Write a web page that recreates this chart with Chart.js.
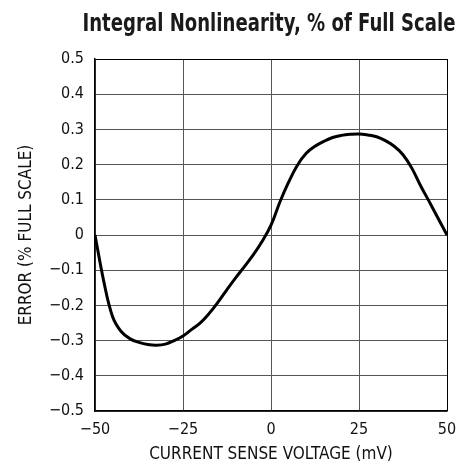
<!DOCTYPE html>
<html>
<head>
<meta charset="utf-8">
<script src="https://cdn.jsdelivr.net/npm/chart.js@4/dist/chart.umd.min.js"></script>
<style>
  html, body { margin: 0; padding: 0; background: #fff; }
  #wrap { width: 474px; height: 465px; }
</style>
</head>
<body>
<div id="wrap"><canvas id="inlChart" width="474" height="465"></canvas></div>
<script>
// Current sense voltage (mV)
const senseVoltage = [-50, -47.5, -45, -42.5, -40, -37.5, -35, -32.5, -30, -27.5, -25,
    -22.5, -20, -17.5, -15, -12.5, -10, -7.5, -5, -2.5, 0, 2.5, 5, 7.5, 10, 12.5,
    15, 17.5, 20, 22.5, 25, 27.5, 30, 32.5, 35, 37.5, 40, 42.5, 45, 47.5, 50];
// Error (% full scale)
const errorPct = [0, -0.132, -0.232, -0.275, -0.295, -0.305, -0.311, -0.313, -0.31, -0.3, -0.287,
    -0.268, -0.249, -0.222, -0.19, -0.155, -0.121, -0.089, -0.056, -0.018, 0.028, 0.093, 0.15, 0.198, 0.232, 0.252,
    0.266, 0.277, 0.283, 0.286, 0.287, 0.284, 0.279, 0.268, 0.252, 0.228, 0.19, 0.14, 0.094, 0.047, 0];

const xTicks = [-50, -25, 0, 25, 50];
const yTicks = [-0.5, -0.4, -0.3, -0.2, -0.1, 0, 0.1, 0.2, 0.3, 0.4, 0.5];

const FONT = "'Liberation Sans Narrow', 'DejaVu Sans Condensed', sans-serif";
const TITLE = 'Integral Nonlinearity, % of Full Scale';
const minus = s => String(s).replace('-', '\u2212');

// Title centred over the plot area, squeezed to a condensed width
const plotTitle = {
    id: 'plotTitle',
    afterDraw(chart) {
        const { ctx, chartArea } = chart;
        ctx.save();
        ctx.font = 'bold 24px ' + FONT;
        ctx.fillStyle = '#1a1a1a';
        ctx.textAlign = 'center';
        ctx.textBaseline = 'alphabetic';
        const w = ctx.measureText(TITLE).width;
        const sx = Math.min(1, 373 / w);
        ctx.translate((chartArea.left + chartArea.right) / 2 - 2, chartArea.top - 28);
        ctx.scale(sx, 1);
        ctx.fillText(TITLE, 0, 0);
        ctx.restore();
    }
};

const gridColor = (ctx, edge) => ctx.tick && ctx.tick.value === edge ? '#000' : '#555';

new Chart(document.getElementById('inlChart'), {
    type: 'line',
    data: {
        datasets: [{
            data: senseVoltage.map((x, i) => ({ x: x, y: errorPct[i] })),
            borderColor: '#000',
            borderWidth: 3,
            pointRadius: 0,
            fill: false,
            tension: 0.4
        }]
    },
    options: {
        responsive: false,
        animation: false,
        layout: { padding: { top: 59, right: 27, left: 0, bottom: 0 } },
        plugins: {
            legend: { display: false },
            tooltip: { enabled: false }
        },
        scales: {
            x: {
                type: 'linear',
                min: -50,
                max: 50,
                afterBuildTicks: scale => { scale.ticks = xTicks.map(v => ({ value: v })); },
                afterFit: scale => { scale.height = 54; },
                grid: { color: c => gridColor(c, 50), lineWidth: 1, drawTicks: false },
                border: { color: '#000', width: 1.5 },
                ticks: {
                    color: '#111',
                    padding: 9,
                    maxRotation: 0,
                    font: { family: FONT, size: 16 },
                    callback: v => minus(v)
                },
                title: {
                    display: true,
                    text: 'CURRENT SENSE VOLTAGE (mV)',
                    color: '#111',
                    font: { family: FONT, size: 17 },
                    padding: { top: 4, bottom: 0 }
                }
            },
            y: {
                min: -0.5,
                max: 0.5,
                afterBuildTicks: scale => { scale.ticks = yTicks.map(v => ({ value: v })); },
                afterFit: scale => { scale.width = 95; },
                grid: { color: c => gridColor(c, 0.5), lineWidth: 1, drawTicks: false },
                border: { color: '#000', width: 1.5 },
                ticks: {
                    color: '#111',
                    padding: 11,
                    font: { family: FONT, size: 16 },
                    callback: v => minus(v === 0 ? '0' : v.toFixed(1))
                },
                title: {
                    display: true,
                    text: 'ERROR (% FULL SCALE)',
                    color: '#111',
                    font: { family: FONT, size: 17 },
                    padding: { top: 16, bottom: 0 }
                }
            }
        }
    },
    plugins: [plotTitle]
});
</script>
</body>
</html>
